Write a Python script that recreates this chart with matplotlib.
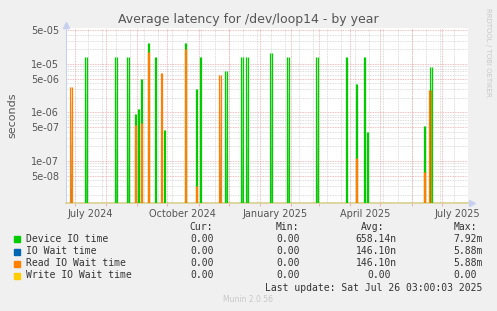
"""
plot.py -- munin style "Average latency for /dev/loop14 - by year" graph.
Spikes on a log axis, rrdtool look, legend table underneath.
"""
from datetime import datetime, timedelta

import numpy as np
import matplotlib
matplotlib.use("Agg")
import matplotlib.pyplot as plt
import matplotlib.dates as mdates
from matplotlib.ticker import FixedLocator, FixedFormatter, NullFormatter

# ---- data ----
dev_dates = [
    "2024-07-12", "2024-08-11", "2024-08-23", "2024-08-30", "2024-09-02",
    "2024-09-05", "2024-09-12", "2024-09-19", "2024-09-28", "2024-10-19",
    "2024-10-30", "2024-11-03", "2024-11-28", "2024-12-14", "2024-12-19",
    "2025-01-12", "2025-01-29", "2025-02-27", "2025-03-28", "2025-04-07",
    "2025-04-15", "2025-04-18", "2025-06-14", "2025-06-20",
]
dev_vals = [
    1.4e-05, 1.4e-05, 1.4e-05, 9.2e-07, 1.17e-06,
    4.8e-06, 2.7e-05, 1.4e-05, 4.4e-07, 2.7e-05,
    3.0e-06, 1.4e-05, 7.0e-06, 1.4e-05, 1.4e-05,
    1.7e-05, 1.4e-05, 1.4e-05, 1.4e-05, 3.8e-06,
    1.4e-05, 3.9e-07, 5.2e-07, 8.5e-06,
]
read_dates = [
    "2024-06-27", "2024-08-30", "2024-09-05", "2024-09-12", "2024-09-25",
    "2024-10-19", "2024-10-30", "2024-11-22", "2025-04-07", "2025-06-14",
    "2025-06-19",
]
read_vals = [
    3.3e-06, 5.5e-07, 6.2e-07, 1.75e-05, 6.4e-06,
    2.0e-05, 3.0e-08, 6.0e-06, 1.15e-07, 6.0e-08,
    2.9e-06,
]

legend_names = ["Device IO time", "IO Wait time", "Read IO Wait time", "Write IO Wait time"]
legend_colors = ["#00CC00", "#0066B3", "#FF8000", "#FFCC00"]
cur_vals = ["0.00", "0.00", "0.00", "0.00"]
min_vals = ["0.00", "0.00", "0.00", "0.00"]
avg_vals = ["658.14n", "146.10n", "146.10n", "0.00"]
max_vals = ["7.92m", "5.88m", "5.88m", "0.00"]

y_ticks = [5e-05, 1e-05, 5e-06, 1e-06, 5e-07, 1e-07, 5e-08]
y_labels = ["5e-05", "1e-05", "5e-06", "1e-06", "5e-07", "1e-07", "5e-08"]
x_labels = ["July 2024", "October 2024", "January 2025", "April 2025", "July 2025"]
x_label_dates = ["2024-07-16", "2024-10-16", "2025-01-16", "2025-04-16", "2025-07-16"]

YMIN, YMAX = 1.37e-08, 5.48e-05
T0, T1 = datetime(2024, 6, 22), datetime(2025, 7, 27, 3)

BG = "#F0F0F0"
MGRID = "#E8A8A8"
GRID = "#D4D4D4"
TXT = "#555555"


def d(s):
    return datetime.strptime(s, "%Y-%m-%d")


def spike(ax, day, v, edge, fill):
    # two edge lines, fill between them fading towards the top
    x = mdates.date2num(day)
    w = 0.8
    levels = np.geomspace(YMIN, v, 9)
    for i in range(8):
        a = 0.85 * (1 - i / 8) + 0.05
        ax.fill_between([x - w, x + w], levels[i], levels[i + 1],
                        color=fill, alpha=a, lw=0, zorder=3)
    ax.vlines([x - w, x + w], YMIN, v, color=edge, lw=0.9, zorder=4)


fig = plt.figure(figsize=(4.97, 3.11), dpi=100, facecolor=BG)
ax = fig.add_axes([66 / 497, 1 - 203 / 311, 402 / 497, 175 / 311])
ax.set_facecolor("white")
ax.set_yscale("log")
ax.set_ylim(YMIN, YMAX)
ax.set_xlim(T0, T1)

# grid: months red, two-week steps gray; y decades + 5s red, rest gray
months = []
m = datetime(2024, 7, 1)
while m < T1:
    months.append(m)
    m = datetime(m.year + (m.month // 12), m.month % 12 + 1, 1)
weeks = []
w = datetime(2024, 7, 14)
while w < T1:
    weeks.append(w)
    w += timedelta(days=14)
ax.vlines(weeks, YMIN, YMAX, color=GRID, lw=0.6, linestyles=(0, (1, 1)), zorder=1)
ax.vlines(months, YMIN, YMAX, color=MGRID, lw=0.6, linestyles=(0, (1, 1)), zorder=2)

minor_y = []
for e in range(-8, -4):
    for k in (2, 3, 4, 6, 7, 8, 9):
        v = k * 10.0 ** e
        if YMIN < v < YMAX:
            minor_y.append(v)
ax.hlines(minor_y, T0, T1, color=GRID, lw=0.6, linestyles=(0, (1, 1)), zorder=1)
ax.hlines([1e-05, 1e-06, 1e-07, 1e-08, 5e-05, 5e-06, 5e-07, 5e-08], T0, T1,
          color=MGRID, lw=0.6, linestyles=(0, (1, 1)), zorder=2)

for day, v in zip(dev_dates, dev_vals):
    spike(ax, d(day), v, "#00CC00", "#40D040")
for day, v in zip(read_dates, read_vals):
    spike(ax, d(day), v, "#FF8000", "#B07A30")

# y axis
ax.yaxis.set_major_locator(FixedLocator(y_ticks))
ax.set_yticklabels(y_labels)
ax.yaxis.set_minor_formatter(NullFormatter())
ax.tick_params(axis="y", which="both", length=0, pad=5, labelsize=7, labelcolor=TXT)
ax.set_ylabel("seconds", fontsize=8, color=TXT, labelpad=10)

# x axis: tick marks at month starts, labels mid-month
ax.xaxis.set_major_locator(FixedLocator(mdates.date2num(months)))
ax.xaxis.set_major_formatter(NullFormatter())
ax.xaxis.set_minor_locator(FixedLocator(mdates.date2num([d(s) for s in x_label_dates])))
ax.xaxis.set_minor_formatter(FixedFormatter(x_labels))
ax.tick_params(axis="x", which="major", length=2.5, color=MGRID, width=0.6)
ax.tick_params(axis="x", which="minor", length=0, pad=4, labelsize=7, labelcolor=TXT)

for s in ("top", "right"):
    ax.spines[s].set_visible(False)
ax.spines["left"].set_color("#C8D0F0")
ax.spines["bottom"].set_color("#D8D090")
ax.spines["bottom"].set_linewidth(1.2)
ax.plot([0], [1.02], marker="^", ms=4, color="#C8D0F0", transform=ax.transAxes, clip_on=False)
ax.plot([1.01], [0], marker=">", ms=4, color="#C8D0F0", transform=ax.transAxes, clip_on=False)

fig.text(248 / 497, 1 - 19 / 311, "Average latency for /dev/loop14 - by year",
         ha="center", va="center", fontsize=9, color=TXT)
fig.text(488 / 497, 1 - 52 / 311, "RRDTOOL / TOBI OETIKER", rotation=270,
         ha="center", va="center", fontsize=5, color="#C8C8C8")

# legend table
mono = dict(family="DejaVu Sans Mono", fontsize=7, color="#333333", va="center")
cw = 5.9  # px per mono char
fig.text(212.7 / 497, 1 - 227.3 / 311, "Cur:", ha="right", **mono)
fig.text(299.3 / 497, 1 - 227.3 / 311, "Min:", ha="right", **mono)
fig.text(384.3 / 497, 1 - 227.3 / 311, "Avg:", ha="right", **mono)
fig.text(476.7 / 497, 1 - 227.3 / 311, "Max:", ha="right", **mono)
rows_y = [239.3, 251.5, 263.5, 275.5]
for i, name in enumerate(legend_names):
    yf = 1 - rows_y[i] / 311
    fig.patches.append(plt.Rectangle((14 / 497, yf - 3 / 311), 6 / 497, 6 / 311,
                                     transform=fig.transFigure, color=legend_colors[i]))
    fig.text(26 / 497, yf, name, ha="left", **mono)
    fig.text(213.4 / 497, yf, cur_vals[i], ha="right", **mono)
    fig.text(299.8 / 497, yf, min_vals[i], ha="right", **mono)
    shift = 0 if avg_vals[i][-1].isalpha() else cw
    fig.text((396.7 - shift) / 497, yf, avg_vals[i], ha="right", **mono)
    shift = 0 if max_vals[i][-1].isalpha() else cw
    fig.text((482.7 - shift) / 497, yf, max_vals[i], ha="right", **mono)

fig.text(482.7 / 497, 1 - 288 / 311, "Last update: Sat Jul 26 03:00:03 2025", ha="right", **mono)
fig.text(248 / 497, 1 - 300 / 311, "Munin 2.0.56", ha="center", va="center",
         fontsize=5.5, color="#C8C8C8")

fig.savefig("out.png", dpi=100, facecolor=BG)
